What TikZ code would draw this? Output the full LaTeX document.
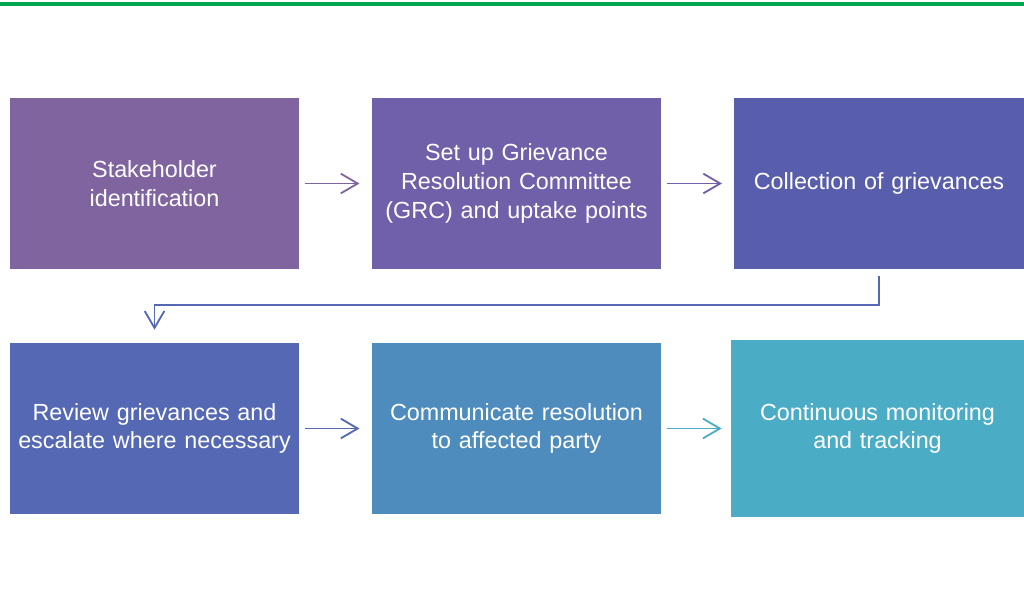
\documentclass[tikz,border=0pt]{standalone}
\usepackage{fontspec}
\setmainfont{Liberation Sans}
\usetikzlibrary{arrows.meta}

\definecolor{gline}{RGB}{0,166,80}
\definecolor{stepA}{RGB}{128,100,160}
\definecolor{stepB}{RGB}{112,96,170}
\definecolor{stepC}{RGB}{88,94,172}
\definecolor{stepD}{RGB}{84,104,180}
\definecolor{stepE}{RGB}{79,140,190}
\definecolor{stepF}{RGB}{75,172,198}

\tikzstyle{stage}=[shape=rectangle,
                   minimum width=7.225cm,
                   minimum height=4.275cm,
                   text width=7cm,
                   align=center,
                   text=white,
                   font=\fontsize{16.6}{20.5}\selectfont]
\tikzstyle{flow}=[-{Straight Barb[length=12pt,width=14pt]},
                  line width=1.3pt,
                  shorten <=0.125cm,
                  shorten >=0.3cm]

\begin{document}
\begin{tikzpicture}[x=0.025cm,y=-0.025cm]

\useasboundingbox (0,0) rectangle (1024,612);

% green rule at the top
\fill[gline] (0,1.8) rectangle (1024,5.6);

% first row of stages
\node[stage,fill=stepA] (s1) at (154.5,183.5) {Stakeholder\\identification};
\node[stage,fill=stepB] (s2) at (516.5,183.5) {Set up Grievance\\Resolution Committee\\(GRC) and uptake points};
\node[stage,fill=stepC,minimum width=7.2cm] (s3) at (879,183.5) {Collection of grievances};

% second row of stages
\node[stage,fill=stepD] (s4) at (154.5,428.5) {Review grievances and\\escalate where necessary};
\node[stage,fill=stepE] (s5) at (516.5,428.5) {Communicate resolution\\to affected party};
\node[stage,fill=stepF,minimum width=7.325cm,minimum height=4.425cm] (s6) at (877.5,428.5) {Continuous monitoring\\and tracking};

% arrows between stages
\draw[flow,stepA] (s1) -- (s2);
\draw[flow,stepB] (s2) -- (s3);
\draw[flow,stepD] (s4) -- (s5);
\draw[flow,stepF,shorten >=0.225cm] (s5) -- (s6);

% wrap from the first row to the second
\draw[flow,stepD,shorten <=0.175cm,shorten >=0.325cm] (s3.south) -- ++(0,36) -| (s4.north);

\end{tikzpicture}
\end{document}
